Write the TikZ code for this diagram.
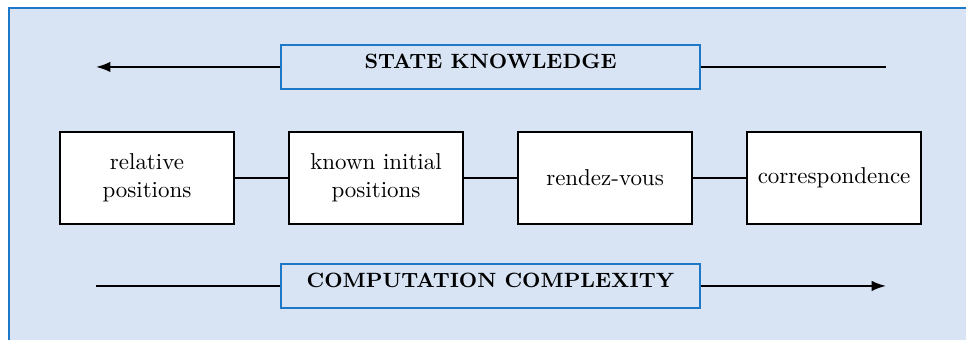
\documentclass[tikz,border=0pt]{standalone}
\usepackage{amsmath,amssymb}
\usetikzlibrary{calc,arrows.meta,positioning}

\definecolor{bgblue}{RGB}{216,227,244}
\definecolor{lineblue}{RGB}{30,120,200}

\tikzset{
  stage/.style={draw=black,fill=white,thick,minimum width=2.66cm,minimum height=1.41cm,
    align=center,inner sep=2pt},
  axislabel/.style={draw=lineblue,fill=bgblue,thick,minimum width=6.41cm,minimum height=0.67cm,
    font=\small\bfseries,text depth=5pt},
  axis/.style={thick,black},
}

\begin{document}
\begin{tikzpicture}
    \useasboundingbox (0,0) rectangle (14.79,5.205);
    % background
    \fill[bgblue] (0.138,-0.5) rectangle (15.5,5.083);
    \draw[lineblue,thick] (0.138,-0.5) -- (0.138,5.083) -- (15.5,5.083);

    % top axis
    \node[axislabel] (know) at (7.51,4.18) {STATE KNOWLEDGE};
    \coordinate (knowl) at (1.47,4.18);
    \coordinate (knowr) at (13.565,4.18);
    \draw[axis,-{Latex[length=2.2mm,width=1.6mm]}] (know.west) -- (knowl);
    \draw[axis] (know.east) -- (knowr);

    % stages
    \node[stage] (rel) at (2.25,2.48) {relative\\positions};
    \node[stage] (kip) at (5.757,2.48) {known initial\\positions};
    \node[stage] (rdv) at (9.263,2.48) {rendez-vous};
    \node[stage] (cor) at (12.77,2.48) {correspondence};
    \draw[thick,black] (rel) -- (kip) (kip) -- (rdv) (rdv) -- (cor);

    % bottom axis
    \node[axislabel] (comp) at (7.51,0.827) {COMPUTATION COMPLEXITY};
    \coordinate (compl) at (1.47,0.827);
    \coordinate (compr) at (13.565,0.827);
    \draw[axis] (compl) -- (comp.west);
    \draw[axis,-{Latex[length=2.2mm,width=1.6mm]}] (comp.east) -- (compr);
\end{tikzpicture}
\end{document}
